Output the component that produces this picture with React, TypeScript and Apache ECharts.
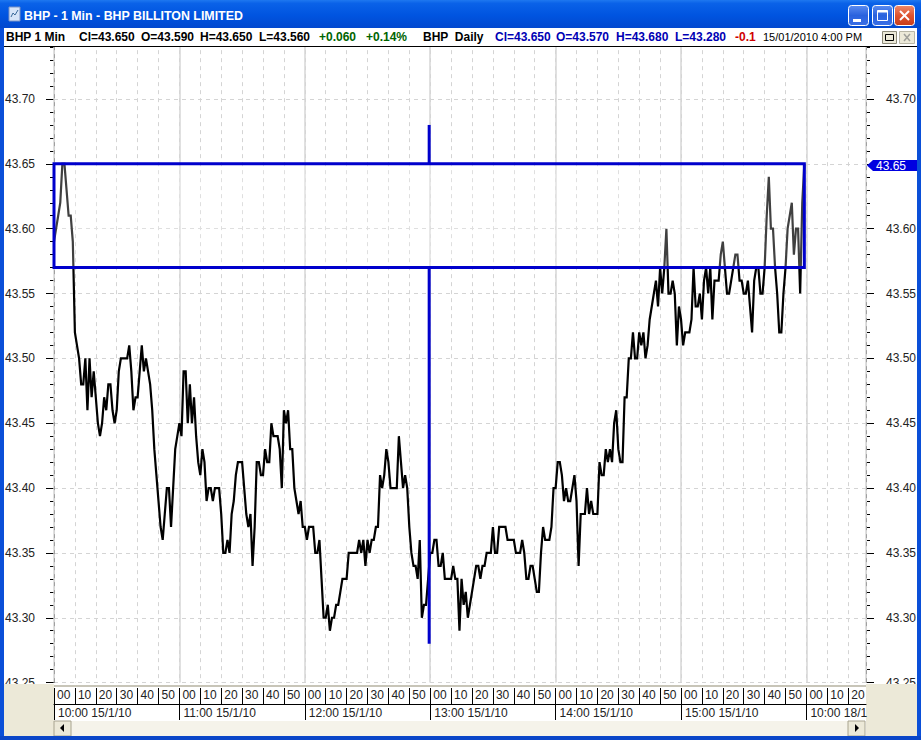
import React, { useEffect, useRef } from "react";
import * as echarts from "echarts";

// One-minute closes, one list per trading hour of 15/1/10
const hour10 = [
  43.59, 43.60, 43.61, 43.62, 43.65, 43.65, 43.63, 43.61, 43.61, 43.59,
  43.52, 43.51, 43.50, 43.48, 43.48, 43.50, 43.46, 43.50, 43.47, 43.49,
  43.47, 43.45, 43.44, 43.45, 43.47, 43.46, 43.48, 43.48, 43.46, 43.45,
  43.46, 43.49, 43.50, 43.50, 43.50, 43.50, 43.51, 43.49, 43.46, 43.47,
  43.47, 43.49, 43.51, 43.49, 43.50, 43.49, 43.48, 43.46, 43.43, 43.41,
  43.39, 43.37, 43.36, 43.38, 43.40, 43.40, 43.37, 43.40, 43.43, 43.44,
];
const hour11 = [
  43.45, 43.44, 43.49, 43.49, 43.45, 43.48, 43.45, 43.47, 43.44, 43.42,
  43.41, 43.43, 43.42, 43.39, 43.40, 43.40, 43.39, 43.40, 43.40, 43.40,
  43.38, 43.35, 43.35, 43.36, 43.35, 43.38, 43.39, 43.41, 43.42, 43.42,
  43.42, 43.40, 43.38, 43.37, 43.38, 43.34, 43.37, 43.42, 43.42, 43.41,
  43.41, 43.43, 43.42, 43.42, 43.45, 43.44, 43.44, 43.44, 43.43, 43.40,
  43.46, 43.45, 43.46, 43.43, 43.43, 43.40, 43.39, 43.38, 43.39, 43.37,
];
const hour12 = [
  43.37, 43.36, 43.37, 43.37, 43.37, 43.35, 43.35, 43.36, 43.33, 43.30,
  43.30, 43.31, 43.29, 43.30, 43.30, 43.31, 43.31, 43.32, 43.33, 43.33,
  43.33, 43.35, 43.35, 43.35, 43.35, 43.35, 43.36, 43.35, 43.36, 43.34,
  43.36, 43.35, 43.36, 43.36, 43.37, 43.37, 43.41, 43.40, 43.41, 43.43,
  43.42, 43.40, 43.40, 43.40, 43.40, 43.44, 43.42, 43.40, 43.41, 43.40,
  43.37, 43.35, 43.34, 43.34, 43.33, 43.36, 43.30, 43.31, 43.31, 43.33,
];
const hour13 = [
  43.35, 43.35, 43.36, 43.36, 43.34, 43.34, 43.35, 43.33, 43.33, 43.33,
  43.33, 43.34, 43.33, 43.33, 43.29, 43.33, 43.31, 43.32, 43.30, 43.31,
  43.32, 43.33, 43.34, 43.34, 43.33, 43.34, 43.34, 43.35, 43.35, 43.35,
  43.37, 43.35, 43.35, 43.37, 43.37, 43.37, 43.37, 43.36, 43.36, 43.36,
  43.36, 43.35, 43.35, 43.35, 43.36, 43.35, 43.33, 43.33, 43.34, 43.34,
  43.33, 43.32, 43.32, 43.35, 43.37, 43.36, 43.36, 43.36, 43.37, 43.40,
];
const hour14 = [
  43.40, 43.42, 43.42, 43.41, 43.39, 43.40, 43.39, 43.39, 43.40, 43.41,
  43.39, 43.34, 43.38, 43.38, 43.38, 43.40, 43.38, 43.39, 43.38, 43.38,
  43.38, 43.42, 43.41, 43.41, 43.43, 43.42, 43.43, 43.42, 43.45, 43.46,
  43.43, 43.42, 43.42, 43.47, 43.47, 43.50, 43.50, 43.52, 43.50, 43.50,
  43.52, 43.51, 43.52, 43.50, 43.51, 43.53, 43.54, 43.55, 43.56, 43.54,
  43.57, 43.55, 43.57, 43.60, 43.55, 43.55, 43.56, 43.55, 43.51, 43.54,
];
const hour15 = [
  43.53, 43.51, 43.52, 43.52, 43.52, 43.53, 43.57, 43.54, 43.54, 43.55,
  43.53, 43.56, 43.57, 43.55, 43.57, 43.53, 43.56, 43.56, 43.56, 43.58,
  43.59, 43.57, 43.55, 43.55, 43.56, 43.57, 43.58, 43.58, 43.56, 43.56,
  43.55, 43.55, 43.56, 43.54, 43.52, 43.56, 43.57, 43.57, 43.55, 43.55,
  43.57, 43.61, 43.64, 43.60, 43.60, 43.57, 43.55, 43.52, 43.52, 43.55,
  43.57, 43.60, 43.61, 43.62, 43.58, 43.60, 43.60, 43.55, 43.62, 43.65,
];
const closes = [...hour10, ...hour11, ...hour12, ...hour13, ...hour14, ...hour15];

// Daily candle of the same session: first minute, last minute, open, close, high, low
const dailyCandle = [0, 359, 43.57, 43.65, 43.68, 43.28];

const hourLabels = [
  "10:00 15/1/10", "11:00 15/1/10", "12:00 15/1/10", "13:00 15/1/10",
  "14:00 15/1/10", "15:00 15/1/10", "10:00 18/1",
];
const header1 = [
  { t: "BHP 1 Min", x: 6, c: "#000" },
  { t: "Cl=43.650", x: 79, c: "#000" },
  { t: "O=43.590", x: 141, c: "#000" },
  { t: "H=43.650", x: 200, c: "#000" },
  { t: "L=43.560", x: 259, c: "#000" },
  { t: "+0.060", x: 319, c: "#006400" },
  { t: "+0.14%", x: 366, c: "#006400" },
  { t: "BHP  Daily", x: 423, c: "#000" },
  { t: "Cl=43.650", x: 495, c: "#0000B4" },
  { t: "O=43.570", x: 556, c: "#0000B4" },
  { t: "H=43.680", x: 616, c: "#0000B4" },
  { t: "L=43.280", x: 675, c: "#0000B4" },
  { t: "-0.1", x: 735, c: "#D00000" },
];
const titleText = "BHP - 1 Min - BHP BILLITON LIMITED";
const dateText = "15/01/2010 4:00 PM";
const lastPriceLabel = "43.65";

const FONT = "Liberation Sans";
const BEIGE = "#ECE9D8";

const rect = (x: number, y: number, w: number, h: number, fill: any, z = 6, extra: any = {}) => ({
  type: "rect", z, shape: { x, y, width: w, height: h, ...(extra.shape || {}) },
  style: { fill, stroke: extra.stroke, lineWidth: extra.lineWidth ?? 1 }, silent: true,
});
const seg = (x1: number, y1: number, x2: number, y2: number, stroke: string, lineWidth = 1, z = 7) => ({
  type: "line", z, shape: { x1, y1, x2, y2 }, style: { stroke, lineWidth }, silent: true,
});
const txt = (text: string, x: number, y: number, fill: string, font: string, z = 7) => ({
  type: "text", z, x, y, silent: true,
  style: { text, fill, font, textVerticalAlign: "middle", verticalAlign: "middle" },
});
const vGrad = (stops: [number, string][]) => ({
  type: "linear", x: 0, y: 0, x2: 0, y2: 1,
  colorStops: stops.map(([offset, color]) => ({ offset, color })),
});

function chromeElements() {
  const blueBtn = vGrad([[0, "#5B8CF0"], [0.5, "#2A62DE"], [1, "#3A6FE6"]]);
  const redBtn = vGrad([[0, "#EE8A6A"], [0.5, "#DE5430"], [1, "#C83C18"]]);
  return [
    // plot-surrounding panels
    rect(4, 684, 50, 52, BEIGE, 1),
    rect(866, 684, 51, 52, BEIGE, 1),
    rect(54, 684, 812, 37, "#fff", 1),
    rect(54, 685, 812, 2, "#C8C5B8", 1),
    rect(71, 721, 777, 15, "#F5F3EA", 1),
    rect(54, 721, 17, 15, BEIGE, 6, { stroke: "#A8A490" }),
    rect(848, 721, 17, 15, BEIGE, 6, { stroke: "#A8A490" }),
    { type: "polygon", z: 7, shape: { points: [[60, 728], [64, 724], [64, 732]] }, style: { fill: "#000" } },
    { type: "polygon", z: 7, shape: { points: [[859, 728], [855, 724], [855, 732]] }, style: { fill: "#000" } },
    // window frame
    rect(0, 0, 4, 740, "#0A4FD8"),
    rect(917, 0, 4, 740, "#0A4FD8"),
    rect(0, 736, 921, 4, "#0A46C8"),
    rect(0, 0, 921, 28, vGrad([[0, "#1E78F0"], [0.12, "#0A62E8"], [0.55, "#0054E0"], [1, "#0248CE"]])),
    // icon
    rect(9, 7, 11, 14, "#D6E4F8", 7, { stroke: "#7A93C4" }),
    { type: "polyline", z: 8, shape: { points: [[11, 17], [13, 13], [15, 15], [18, 10]] }, style: { stroke: "#3A6A9A", fill: "none", lineWidth: 1 } },
    txt(titleText, 24, 16, "#fff", `bold 12.4px "${FONT}"`),
    // window buttons
    rect(848.5, 5.5, 20, 20, blueBtn, 7, { stroke: "#fff", shape: { r: 3 } }),
    rect(853, 19, 8, 3, "#fff", 8),
    rect(872.5, 5.5, 20, 20, blueBtn, 7, { stroke: "#fff", shape: { r: 3 } }),
    rect(877.5, 10.5, 10, 10, "none", 8, { stroke: "#fff" }),
    rect(877.5, 10.5, 10, 2, "#fff", 8),
    rect(894.5, 5.5, 20, 20, redBtn, 7, { stroke: "#fff", shape: { r: 3 } }),
    seg(900, 11, 909, 20, "#fff", 2, 8),
    seg(909, 11, 900, 20, "#fff", 2, 8),
    // header strip
    rect(4, 28, 913, 18, "#fff"),
    seg(4, 46.5, 917, 46.5, "#000"),
    ...header1.map((h) => txt(h.t, h.x, 37, h.c, `bold 12px "${FONT}"`)),
    txt(dateText, 763, 37, "#000", `11px "${FONT}"`),
    rect(882.5, 31.5, 14, 12, BEIGE, 7, { stroke: "#8C8A7A" }),
    rect(885.5, 34.5, 8, 6, "none", 8, { stroke: "#000" }),
    rect(899.5, 31.5, 15, 12, BEIGE, 7, { stroke: "#B8B6A6" }),
    seg(904, 34, 910, 41, "#A0A09A", 1.5, 8),
    seg(910, 34, 904, 41, "#A0A09A", 1.5, 8),
    // last price tag
    { type: "polygon", z: 6, shape: { points: [[867, 165.5], [873, 160], [917, 160], [917, 171], [873, 171]] }, style: { fill: "#0000E0" } },
    txt(lastPriceLabel, 876, 165.5, "#fff", `12px "${FONT}"`),
  ];
}

function renderCandle(_: any, api: any) {
  const x0 = api.value(0), x1 = api.value(1), open = api.value(2), close = api.value(3), high = api.value(4), low = api.value(5);
  const a = api.coord([x0, close]);
  const b = api.coord([x1, open]);
  const mid = (x0 + x1) / 2;
  const h = api.coord([mid, high]);
  const l = api.coord([mid, low]);
  const wick = { stroke: "#0000CC", lineWidth: 3 };
  return {
    type: "group",
    children: [
      { type: "rect", shape: { x: a[0], y: a[1], width: b[0] - a[0], height: b[1] - a[1] }, style: { fill: "rgba(255,255,255,0.25)", ...wick } },
      { type: "line", shape: { x1: h[0], y1: h[1], x2: h[0], y2: a[1] }, style: wick },
      { type: "line", shape: { x1: h[0], y1: b[1], x2: h[0], y2: l[1] }, style: wick },
    ],
  };
}

const X_MAX = 388.5;
const labelColor = "#222";

export default function App() {
  const ref = useRef<HTMLDivElement>(null);
  useEffect(() => {
    const chart = echarts.init(ref.current!, undefined, { renderer: "svg" });
    const yShared = {
      type: "value", min: 43.25, max: 43.75, interval: 0.05, scale: true,
      axisLine: { show: true, onZero: false, lineStyle: { color: "#000", width: 1 } },
      axisTick: { show: true, length: 8, lineStyle: { color: "#000", width: 1 } },
      minorTick: { show: true, splitNumber: 5, length: 4, lineStyle: { color: "#000", width: 1 } },
    };
    const yLabel = {
      show: true, color: labelColor, fontSize: 12, fontFamily: FONT,
      showMaxLabel: false, showMinLabel: true, hideOverlap: false,
    };
    chart.setOption({
      animation: false,
      backgroundColor: "#fff",
      grid: { left: 54, right: 55, top: 34.16, height: 648.44, containLabel: false },
      xAxis: [
        {
          type: "value", position: "bottom", min: 0, max: X_MAX, interval: 10, offset: 21.4, z: 2,
          axisLine: { show: true, onZero: false, lineStyle: { color: "#000", width: 1 } },
          axisTick: { show: true, inside: true, length: 16, lineStyle: { color: "#000" } },
          axisLabel: {
            show: true, inside: true, margin: 3, align: "left", verticalAlign: "bottom", padding: [0, 0, 0, 3],
            color: labelColor, fontSize: 12, fontFamily: FONT, showMaxLabel: false, showMinLabel: true,
            formatter: (v: number) => String(v % 60).padStart(2, "0"),
          },
          splitLine: { show: true, lineStyle: { color: "#D4D4D4", type: [4, 4], width: 1 } },
        },
        {
          type: "value", position: "bottom", min: 0, max: X_MAX, interval: 60, offset: 37.4, z: 2,
          axisLine: { show: false, onZero: false },
          axisTick: { show: true, inside: true, length: 16, lineStyle: { color: "#000" } },
          axisLabel: {
            show: true, inside: true, margin: 1, align: "left", verticalAlign: "bottom", padding: [0, 0, 0, 4],
            color: labelColor, fontSize: 12, fontFamily: FONT, showMaxLabel: false, showMinLabel: true,
            formatter: (v: number) => hourLabels[Math.round(v / 60)] ?? "",
          },
          splitLine: { show: true, lineStyle: { color: "#D6D6D6", width: 1.5 } },
        },
      ],
      yAxis: [
        {
          ...yShared, position: "left",
          axisLabel: { ...yLabel, margin: 19, formatter: (v: number) => v.toFixed(2) },
          splitLine: { show: true, lineStyle: { color: "#D4D4D4", type: [4, 4], width: 1 } },
        },
        {
          ...yShared, position: "right",
          axisLabel: {
            ...yLabel, margin: 20,
            // the last-price tag carries the text at this level
            formatter: (v: number) => (v.toFixed(2) === lastPriceLabel ? "" : v.toFixed(2)),
          },
          splitLine: { show: false },
        },
      ],
      graphic: { elements: chromeElements() },
      series: [
        {
          type: "line", z: 3, xAxisIndex: 0, yAxisIndex: 0, showSymbol: false, silent: true,
          lineStyle: { color: "#000", width: 2.2, join: "miter" }, clip: false,
          data: closes.map((v, i) => [i, v]),
        },
        {
          type: "custom", z: 4, xAxisIndex: 0, yAxisIndex: 0, silent: true, clip: false,
          renderItem: renderCandle,
          encode: { x: [0, 1], y: [2, 3, 4, 5] },
          data: [dailyCandle],
        },
      ],
    });
    return () => chart.dispose();
  }, []);
  return <div ref={ref} style={{ position: "fixed", left: 0, top: 0, width: 921, height: 740 }} />;
}
